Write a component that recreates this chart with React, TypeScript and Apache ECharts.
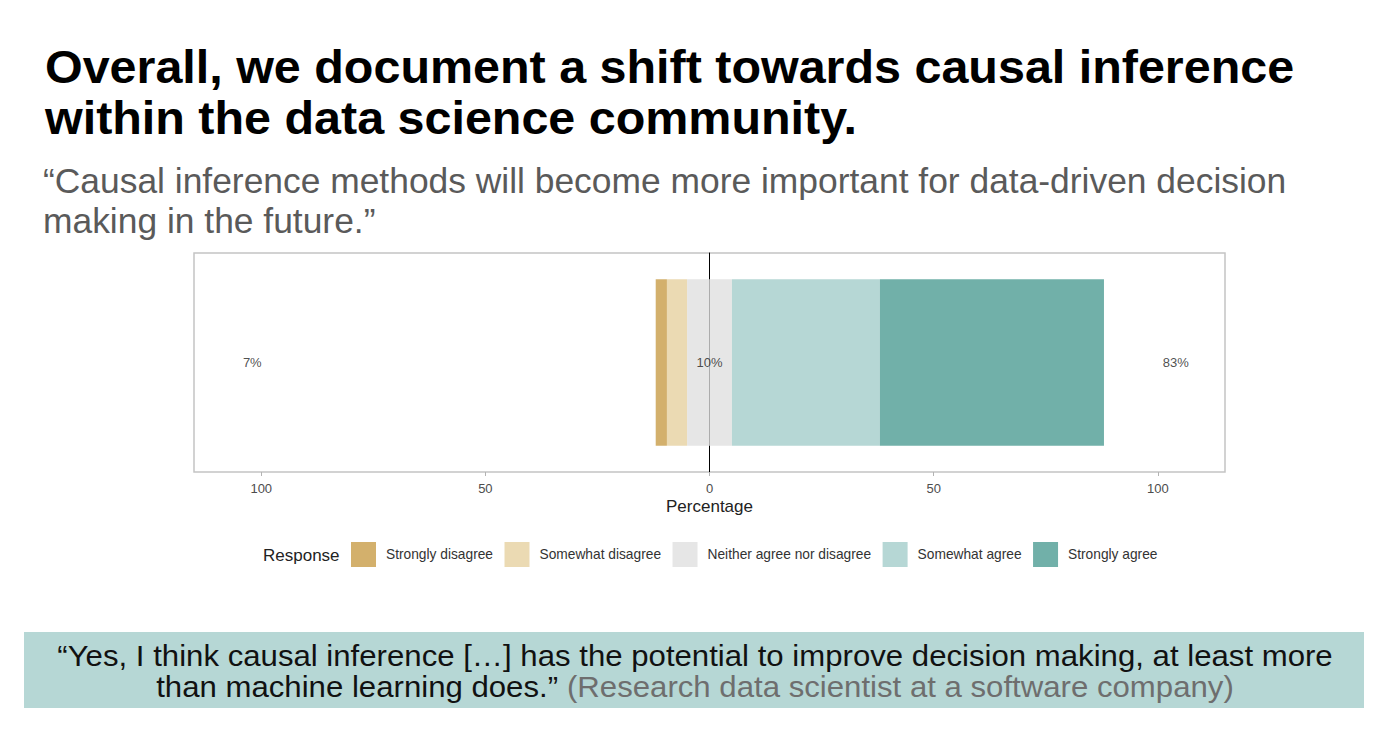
import React, { useEffect, useRef } from "react";
import * as echarts from "echarts";

const titleLines = [
  "Overall, we document a shift towards causal inference",
  "within the data science community.",
];
const subtitleLines = [
  "\u201CCausal inference methods will become more important for data-driven decision",
  "making in the future.\u201D",
];
const quoteLine1 =
  "\u201CYes, I think causal inference [\u2026] has the potential to improve decision making, at least more";
const quoteLine2Main = "than machine learning does.\u201D";
const quoteLine2Source = "(Research data scientist at a software company)";

const questions = ["Causal inference importance"];
const responses = [
  "Strongly disagree",
  "Somewhat disagree",
  "Neither agree nor disagree",
  "Somewhat agree",
  "Strongly agree",
];
const shares = [2.5, 4.5, 10, 33, 50];
const responseColors = ["#d3b06c", "#ebdab3", "#e6e6e6", "#b6d7d5", "#71b0a9"];
const tickValues = [-100, -50, 0, 50, 100];
const summaryPositions = [-102, 0, 104];

export default function App() {
  const ref = useRef<HTMLDivElement>(null);

  useEffect(() => {
    if (!ref.current) return;
    const chart = echarts.init(ref.current, null, { renderer: "svg" });

    const disagree = shares[0] + shares[1];
    const neutral = shares[2];
    const agree = shares[3] + shares[4];
    const summaryLabels = [`${Math.round(disagree)}%`, `${Math.round(neutral)}%`, `${Math.round(agree)}%`];

    const barBase = {
      type: "bar",
      stack: "likert",
      barCategoryGap: "24%",
      emphasis: { disabled: true },
    };

    const series: any[] = [
      { ...barBase, name: responses[2], data: [-shares[2] / 2], itemStyle: { color: responseColors[2] } },
      { ...barBase, name: responses[2], data: [shares[2] / 2], itemStyle: { color: responseColors[2] } },
      { ...barBase, name: responses[1], data: [-shares[1]], itemStyle: { color: responseColors[1] } },
      { ...barBase, name: responses[3], data: [shares[3]], itemStyle: { color: responseColors[3] } },
      { ...barBase, name: responses[0], data: [-shares[0]], itemStyle: { color: responseColors[0] } },
      { ...barBase, name: responses[4], data: [shares[4]], itemStyle: { color: responseColors[4] } },
      {
        type: "scatter",
        name: "summary",
        symbolSize: 0,
        z: 5,
        data: summaryPositions.map((x, i) => ({ value: [x, questions[0]], label: { formatter: summaryLabels[i] } })),
        label: {
          show: true,
          position: "inside",
          color: "#222222",
          fontSize: 13,
          fontFamily: "Liberation Sans, Arial, sans-serif",
        },
      },
    ];

    const ff = "Liberation Sans, Arial, Helvetica, sans-serif";

    chart.setOption({
      animation: false,
      backgroundColor: "#ffffff",
      grid: {
        left: 194,
        right: 168,
        top: 253,
        bottom: 280,
        show: true,
        borderColor: "#c4c4c4",
        borderWidth: 1.5,
        backgroundColor: "#ffffff",
      },
      xAxis: {
        type: "value",
        min: -115,
        max: 115,
        name: "Percentage",
        nameLocation: "middle",
        nameGap: 26,
        nameTextStyle: { color: "#222222", fontSize: 17, fontFamily: ff },
        axisLine: { show: false },
        axisTick: { show: true, customValues: tickValues, length: 4, lineStyle: { color: "#b3b3b3" } },
        axisLabel: {
          customValues: tickValues,
          formatter: (v: number) => String(Math.abs(v)),
          color: "#4d4d4d",
          fontSize: 13,
          fontFamily: ff,
          margin: 10,
        },
        splitLine: { show: false },
      },
      yAxis: {
        type: "category",
        data: questions,
        axisLine: { show: true, onZero: true, lineStyle: { color: "#000000", width: 1 } },
        axisTick: { show: false },
        axisLabel: { show: false },
        splitLine: { show: false },
      },
      legend: {
        data: responses,
        left: 351,
        top: 542,
        padding: 0,
        orient: "horizontal",
        itemWidth: 25,
        itemHeight: 25,
        itemGap: 11.5,
        icon: "rect",
        selectedMode: false,
        textStyle: { color: "#333333", fontSize: 13.75, fontFamily: ff, padding: [0, 0, 0, 5] },
      },
      graphic: [
        ...titleLines.map((t, i) => ({
          type: "text",
          x: 45,
          y: 67 + i * 51,
          scaleX: 1.031,
          style: {
            text: t,
            fill: "#000000",
            font: `bold 47px ${ff}`,
            verticalAlign: "middle",
            align: "left",
          },
        })),
        ...subtitleLines.map((t, i) => ({
          type: "text",
          x: 43,
          y: 181 + i * 40,
          style: {
            text: t,
            fill: "#5a5a5a",
            font: `35.4px ${ff}`,
            verticalAlign: "middle",
            align: "left",
          },
        })),
        {
          type: "text",
          x: 263,
          y: 555,
          style: {
            text: "Response",
            fill: "#222222",
            font: `17px ${ff}`,
            verticalAlign: "middle",
            align: "left",
          },
        },
        {
          type: "rect",
          shape: { x: 24, y: 632, width: 1340, height: 76 },
          style: { fill: "#b6d7d5" },
        },
        {
          type: "text",
          x: 695,
          y: 656,
          scaleX: 1.075,
          style: {
            text: quoteLine1,
            fill: "#111111",
            font: `29px ${ff}`,
            verticalAlign: "middle",
            align: "center",
          },
        },
        {
          type: "text",
          x: 695,
          y: 687,
          scaleX: 1.075,
          style: {
            text: `{a|${quoteLine2Main}} {b|${quoteLine2Source}}`,
            font: `29px ${ff}`,
            verticalAlign: "middle",
            align: "center",
            rich: {
              a: { fill: "#111111", font: `29px ${ff}` },
              b: { fill: "#6e6e6e", font: `29px ${ff}` },
            },
          },
        },
      ],
      series,
    });

    return () => chart.dispose();
  }, []);

  return (
    <div
      ref={ref}
      style={{ position: "fixed", left: 0, top: 0, width: 1393, height: 752, background: "#ffffff" }}
    />
  );
}
